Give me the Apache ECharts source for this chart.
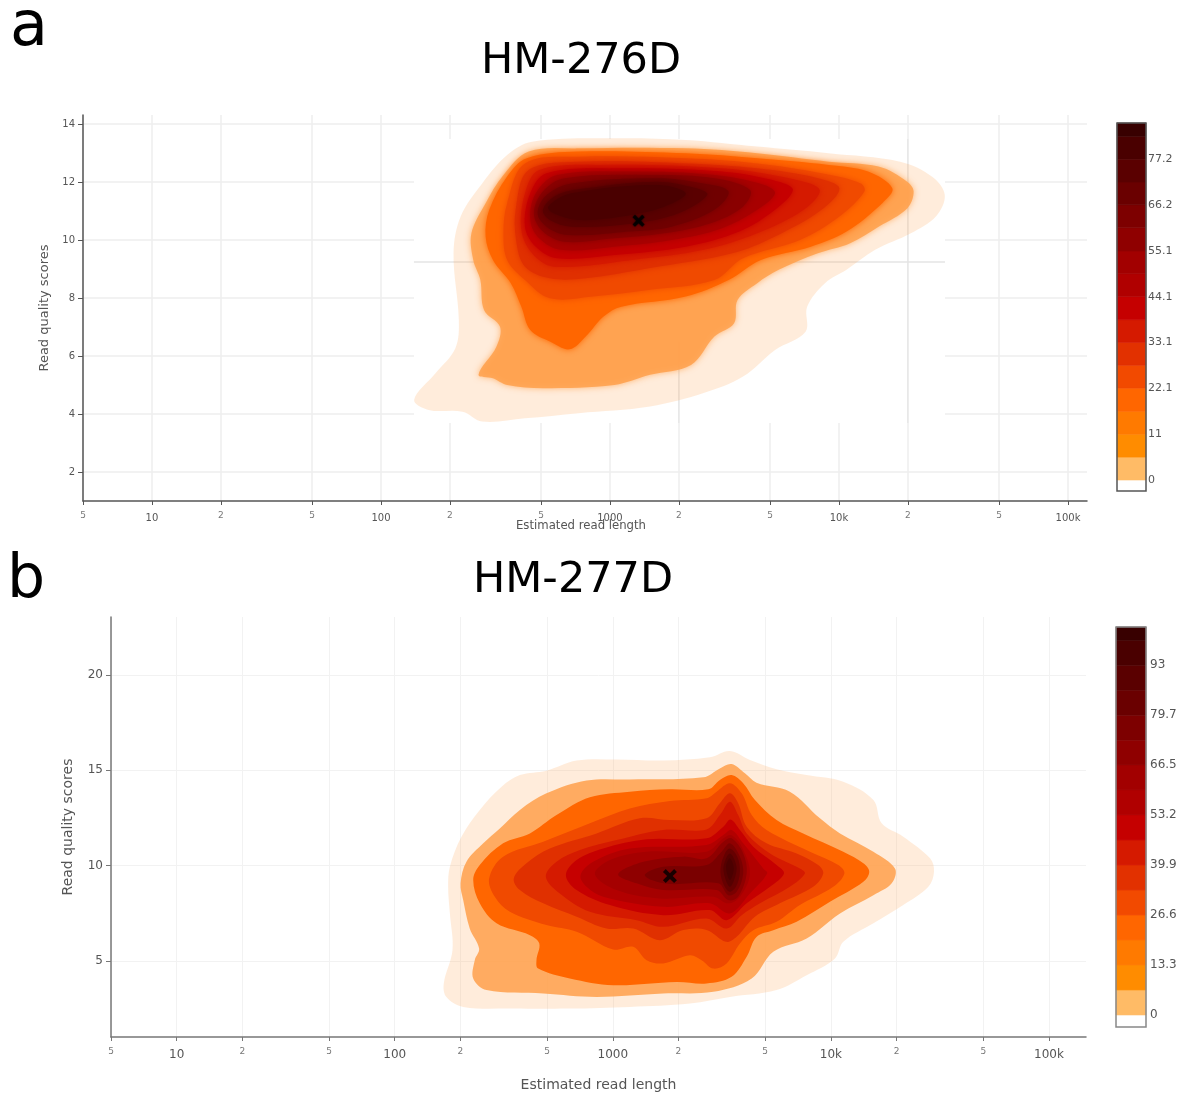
<!DOCTYPE html>
<html>
<head>
<meta charset="utf-8">
<title>Read length vs quality</title>
<script src="https://cdn.jsdelivr.net/npm/echarts@6/dist/echarts.min.js"></script>
<style>
  html, body { margin: 0; padding: 0; background: #fff; }
  #chart { width: 1178px; height: 1095px; }
</style>
</head>
<body>
<div id="chart"></div>
<script>
// read lengths on the x axis, labels as printed
const xTickValues = [5, 10, 20, 50, 100, 200, 500, 1000, 2000, 5000, 10000, 20000, 50000, 100000]
const xTickLabels = ['5', '10', '2', '5', '100', '2', '5', '1000', '2', '5', '10k', '2', '5', '100k']
const yTicksA = [2, 4, 6, 8, 10, 12, 14]
const yTicksB = [5, 10, 15, 20]

// median read length and quality of each run
const medianA = [3.125, 10.66]
const medianB = [3.262, 9.45]

// colorbar steps and labels
const colorbarStepsA = [0, 5.5, 11, 16.5, 22.1, 27.6, 33.1, 38.6, 44.1, 49.6, 55.1, 60.7, 66.2, 71.7, 77.2, 82.7, 85.9]
const colorbarStepsB = [0, 6.65, 13.3, 19.95, 26.6, 33.25, 39.9, 46.55, 53.2, 59.85, 66.5, 73.1, 79.7, 86.4, 93, 99.7, 103.2]
const colorbarTicksA = [0, 11, 22.1, 33.1, 44.1, 55.1, 66.2, 77.2]
const colorbarTicksB = [0, 13.3, 26.6, 39.9, 53.2, 66.5, 79.7, 93]

// density contours, [log10(read length), quality], outermost first
const contourA0 = [[2.145,4.49],[2.239,5.41],[2.325,6.27],[2.340,7.24],[2.317,9.54],[2.348,10.81],[2.442,11.95],[2.551,12.93],[2.660,13.39],[3.019,13.51],[3.331,13.45],[3.643,13.22],[3.955,12.99],[4.267,12.70],[4.407,12.18],[4.462,11.55],[4.423,10.81],[4.314,10.23],[4.158,9.66],[4.033,8.97],[3.939,8.51],[3.861,7.70],[3.854,6.84],[3.721,6.21],[3.581,5.29],[3.409,4.72],[3.175,4.26],[2.863,4.03],[2.629,3.85],[2.442,3.74],[2.356,4.08],[2.208,4.14]]
const contourA1 = [[2.426,5.35],[2.504,6.32],[2.520,7.01],[2.450,7.59],[2.434,8.62],[2.403,9.31],[2.395,10.23],[2.457,11.27],[2.535,12.24],[2.645,13.05],[2.863,13.16],[3.331,13.16],[3.643,12.99],[3.955,12.70],[4.173,12.53],[4.298,12.01],[4.326,11.67],[4.298,11.09],[4.173,10.46],[4.049,9.89],[3.908,9.54],[3.737,8.97],[3.643,8.51],[3.557,7.93],[3.542,7.13],[3.456,6.67],[3.354,5.69],[3.175,5.35],[3.019,5.00],[2.707,4.89],[2.551,5.00],[2.489,5.23]]
const contourA2 = [[2.824,6.23],[2.738,6.50],[2.652,6.90],[2.613,7.70],[2.567,8.51],[2.489,9.31],[2.457,10.12],[2.473,11.04],[2.551,12.19],[2.637,12.82],[2.863,13.05],[3.331,12.99],[3.643,12.82],[3.955,12.59],[4.127,12.36],[4.233,11.78],[4.189,11.27],[4.033,10.29],[3.877,9.77],[3.659,9.31],[3.518,8.62],[3.331,8.05],[3.050,7.70],[2.972,7.36],[2.894,6.67]]
const contourA3 = [[2.738,7.99],[2.629,8.62],[2.551,9.31],[2.535,10.23],[2.551,11.27],[2.629,12.64],[2.863,12.87],[3.331,12.82],[3.643,12.64],[3.924,12.30],[4.095,11.95],[4.111,11.67],[4.002,10.81],[3.830,10.00],[3.581,9.37],[3.456,8.62],[3.175,8.28],[2.925,8.05]]
const contourA4 = [[2.738,8.68],[2.629,9.08],[2.590,10.00],[2.590,11.15],[2.645,12.41],[2.863,12.70],[3.331,12.64],[3.643,12.47],[3.908,12.13],[4.002,11.78],[3.924,11.04],[3.721,10.12],[3.534,9.54],[3.175,9.03],[2.894,8.68]]
const contourA5 = [[2.754,9.08],[2.660,9.54],[2.613,10.35],[2.629,11.61],[2.691,12.41],[2.957,12.59],[3.487,12.47],[3.815,12.07],[3.916,11.72],[3.846,11.04],[3.643,10.23],[3.409,9.66],[3.097,9.31]]
const contourA6 = [[2.769,9.37],[2.676,9.77],[2.629,10.46],[2.652,11.61],[2.723,12.30],[3.019,12.47],[3.487,12.36],[3.737,12.01],[3.799,11.72],[3.721,11.04],[3.565,10.29],[3.331,9.77],[3.019,9.48]]
const contourA7 = [[2.785,9.66],[2.691,10.06],[2.652,10.69],[2.676,11.61],[2.769,12.24],[3.097,12.36],[3.456,12.24],[3.674,11.90],[3.721,11.61],[3.643,11.04],[3.487,10.40],[3.269,10.00],[3.019,9.77]]
const contourA8 = [[2.801,9.94],[2.707,10.29],[2.668,10.92],[2.707,11.67],[2.801,12.13],[3.175,12.24],[3.456,12.13],[3.612,11.72],[3.581,11.15],[3.440,10.58],[3.237,10.23],[3.019,10.06]]
const contourA9 = [[2.816,10.17],[2.723,10.46],[2.684,10.92],[2.723,11.55],[2.832,11.95],[3.206,12.13],[3.409,11.95],[3.518,11.67],[3.456,11.04],[3.269,10.46],[3.081,10.29]]
const contourA10 = [[2.832,10.46],[2.738,10.69],[2.707,11.04],[2.769,11.55],[2.894,11.78],[3.206,12.01],[3.378,11.78],[3.425,11.55],[3.300,10.92],[3.113,10.58]]
const contourA11 = [[2.863,10.69],[2.754,10.92],[2.730,11.15],[2.832,11.61],[3.206,11.90],[3.331,11.61],[3.237,11.15],[3.050,10.81]]

const contourB0 = [[2.245,8.89],[2.253,9.94],[2.306,11.51],[2.390,12.92],[2.490,14.14],[2.574,14.75],[2.696,14.98],[2.834,15.51],[3.017,15.57],[3.231,15.51],[3.445,15.68],[3.537,16.01],[3.629,15.54],[3.751,15.05],[3.889,14.75],[4.057,14.40],[4.195,13.44],[4.233,12.22],[4.332,11.52],[4.455,10.38],[4.473,9.68],[4.447,8.89],[4.332,7.93],[4.195,6.97],[4.057,6.00],[4.019,5.13],[3.889,4.25],[3.751,3.47],[3.537,3.11],[3.354,2.77],[3.078,2.59],[2.803,2.50],[2.543,2.50],[2.314,2.59],[2.237,3.11],[2.225,3.82],[2.265,5.57],[2.253,7.49]]
const contourB1 = [[2.302,9.07],[2.329,10.20],[2.406,11.17],[2.482,11.95],[2.574,12.92],[2.696,13.79],[2.880,14.46],[3.078,14.52],[3.415,14.63],[3.491,15.10],[3.545,15.33],[3.606,14.84],[3.659,14.35],[3.812,13.88],[3.950,12.48],[4.042,11.69],[4.195,10.73],[4.294,9.85],[4.279,9.07],[4.195,8.45],[4.042,7.49],[3.889,6.18],[3.736,5.48],[3.637,4.08],[3.461,3.38],[3.231,3.29],[2.926,3.11],[2.681,3.29],[2.421,3.47],[2.360,4.08],[2.367,5.04],[2.387,5.65],[2.344,6.70],[2.314,8.19]]
const contourB2 = [[2.360,9.24],[2.390,10.03],[2.497,11.17],[2.620,11.69],[2.742,12.65],[2.895,13.58],[3.078,13.88],[3.262,14.00],[3.438,14.00],[3.491,14.49],[3.545,14.75],[3.598,14.32],[3.652,13.44],[3.751,12.39],[3.873,11.69],[4.057,10.73],[4.149,10.12],[4.176,9.68],[4.149,9.15],[3.996,8.10],[3.843,7.05],[3.736,6.61],[3.659,6.26],[3.614,5.22],[3.545,4.17],[3.430,3.82],[3.292,3.90],[3.002,3.73],[2.803,4.08],[2.658,4.60],[2.650,5.04],[2.663,5.91],[2.620,6.35],[2.467,6.97],[2.390,8.02]]
const contourB3 = [[2.433,9.33],[2.497,10.47],[2.681,11.25],[2.895,12.22],[3.078,13.00],[3.262,13.39],[3.430,13.53],[3.476,13.88],[3.537,14.32],[3.591,13.79],[3.637,12.65],[3.705,11.87],[3.904,10.73],[4.034,10.03],[4.062,9.59],[4.011,8.89],[3.858,7.93],[3.751,7.05],[3.644,6.61],[3.583,5.91],[3.522,4.87],[3.461,4.60],[3.407,5.04],[3.354,5.30],[3.231,4.87],[3.155,5.04],[3.094,5.74],[3.002,5.60],[2.834,6.53],[2.696,6.88],[2.528,7.58],[2.459,8.37]]
const contourB4 = [[2.546,9.33],[2.604,10.12],[2.711,10.90],[2.926,11.69],[3.124,12.48],[3.262,12.39],[3.430,12.48],[3.491,13.27],[3.537,13.79],[3.575,13.27],[3.614,12.04],[3.705,11.17],[3.843,10.64],[3.942,10.03],[3.965,9.59],[3.919,8.89],[3.766,8.02],[3.652,7.32],[3.568,6.27],[3.519,6.00],[3.430,6.62],[3.323,6.62],[3.216,6.09],[3.094,6.70],[2.971,6.70],[2.834,7.32],[2.681,8.02],[2.574,8.72]]
const contourB5 = [[2.693,9.42],[2.742,10.20],[2.849,10.82],[3.017,11.34],[3.231,11.87],[3.430,11.90],[3.491,12.65],[3.537,13.35],[3.575,12.65],[3.614,11.69],[3.721,10.64],[3.858,9.85],[3.881,9.59],[3.812,8.89],[3.675,8.02],[3.591,7.40],[3.522,6.70],[3.430,7.23],[3.231,6.79],[3.109,7.14],[2.895,7.58],[2.757,8.54]]
const contourB6 = [[2.785,9.50],[2.834,10.29],[2.956,10.90],[3.155,11.38],[3.430,11.43],[3.507,12.04],[3.540,12.42],[3.583,11.87],[3.644,10.99],[3.751,10.03],[3.785,9.59],[3.721,8.89],[3.614,8.02],[3.522,7.14],[3.445,7.67],[3.231,7.40],[2.987,7.93],[2.834,8.72]]
const contourB7 = [[2.852,9.50],[2.910,10.20],[3.078,10.90],[3.430,11.08],[3.507,11.60],[3.545,11.87],[3.598,11.17],[3.690,9.85],[3.708,9.59],[3.629,8.54],[3.537,7.49],[3.445,8.02],[3.231,7.84],[2.956,8.37],[2.880,8.89]]
const contourB8 = [[2.918,9.55],[2.987,10.29],[3.155,10.73],[3.430,10.73],[3.507,11.43],[3.542,11.60],[3.591,10.99],[3.629,9.59],[3.583,8.37],[3.529,8.02],[3.461,8.37],[3.216,8.28],[3.017,8.72]]
const contourB9 = [[3.025,9.55],[3.140,10.20],[3.323,10.47],[3.430,10.38],[3.507,11.25],[3.545,11.43],[3.598,10.64],[3.614,9.59],[3.575,8.37],[3.529,8.19],[3.476,8.72],[3.231,8.72],[3.109,9.07]]
const contourB10 = [[3.147,9.54],[3.231,9.94],[3.430,10.03],[3.499,10.73],[3.537,11.17],[3.583,10.47],[3.598,9.59],[3.568,8.63],[3.529,8.45],[3.484,9.07],[3.262,9.03],[3.178,9.24]]
const contourB11 = [[3.494,9.85],[3.514,10.64],[3.537,10.90],[3.571,10.47],[3.583,9.68],[3.565,8.89],[3.534,8.63],[3.503,9.15]]
const contourB12 = [[3.507,9.85],[3.537,10.64],[3.568,9.85],[3.537,8.89]]
const contourB13 = [[3.519,9.94],[3.537,10.38],[3.555,9.85],[3.537,9.24]]

const contoursA = [contourA0, contourA1, contourA2, contourA3, contourA4, contourA5, contourA6, contourA7, contourA8, contourA9, contourA10, contourA11]
const contoursB = [contourB0, contourB1, contourB2, contourB3, contourB4, contourB5, contourB6, contourB7, contourB8, contourB9, contourB10, contourB11, contourB12, contourB13]

// the first panel is a pasted picture: a white patch hides the grid behind the density
const patchA = [[2.144, 3.69], [2.144, 13.48], [4.463, 13.48], [4.463, 3.69]]
const strayLineH = [[2.144, 9.24], [4.463, 9.24]]
const strayLineV1 = [[3.301, 3.69], [3.301, 6.5]]
const strayLineV2 = [[4.301, 3.69], [4.301, 13.48]]

const fillColors = ['rgba(253,170,90,0.22)', 'rgba(255,160,75,0.85)', '#ff6600', '#f04a00', '#e03000', '#d51a00', '#c60000', '#b20000', '#a50000', '#8f0000', '#7a0000', '#660000', '#560000', '#4b0000']
const fillColorsA = ['rgba(253,170,90,0.22)', 'rgba(255,160,75,0.85)', '#ff6600', '#f04a00', '#e03000', '#d51a00', '#c60000', '#a80000', '#8a0000', '#700000', '#5a0000', '#4a0000']
const barColors = ['#ffbb66', '#ff8c00', '#ff7a00', '#ff6600', '#f24a00', '#e23100', '#d51a00', '#c50000', '#b00000', '#a20000', '#8f0000', '#7d0000', '#6a0000', '#5a0000', '#4a0000', '#380000']

const font = '"DejaVu Sans", Verdana, sans-serif'
const crossPath = 'path://M2 0L5 3L8 0L10 2L7 5L10 8L8 10L5 7L2 10L0 8L3 5L0 2Z'

const chart = echarts.init(document.getElementById('chart'))

function contourSeries(contours, colors, axisIndex, blur) {
  return {
    type: 'custom',
    xAxisIndex: axisIndex,
    yAxisIndex: axisIndex,
    z: 3,
    silent: true,
    data: contours.map((c, i) => [c[0][0], c[0][1], i]),
    renderItem: function(params, api) {
      const idx = api.value(2)
      const fill = colors[idx]
      const style = { fill: fill }
      // the outer band is see-through, its shadow would darken it
      if (blur && idx > 0) {
        style.shadowBlur = blur
        style.shadowColor = fill
      }
      return {
        type: 'polygon',
        shape: { points: contours[idx].map(p => api.coord(p)), smooth: 0.35 },
        style: style
      }
    }
  }
}

function colorbarSeries(steps, axisIndex) {
  return {
    type: 'custom',
    xAxisIndex: axisIndex,
    yAxisIndex: axisIndex,
    silent: true,
    data: barColors.map((c, i) => [0, steps[i], steps[i + 1], i]),
    renderItem: function(params, api) {
      const low = api.coord([0, api.value(1)])
      const high = api.coord([1, api.value(2)])
      const fill = barColors[api.value(3)]
      return {
        type: 'rect',
        shape: { x: low[0], y: high[1], width: high[0] - low[0], height: low[1] - high[1] },
        style: { fill: fill, stroke: fill, lineWidth: 0.6 }
      }
    }
  }
}

// frame goes on top of the bands
function colorbarFrame(axisIndex, low, high, color) {
  return {
    type: 'custom',
    xAxisIndex: axisIndex,
    yAxisIndex: axisIndex,
    z: 3,
    silent: true,
    data: [[0, low, high]],
    renderItem: function(params, api) {
      const a = api.coord([0, api.value(1)])
      const b = api.coord([1, api.value(2)])
      return {
        type: 'rect',
        shape: { x: a[0], y: b[1], width: b[0] - a[0], height: a[1] - b[1] },
        style: { fill: 'none', stroke: color, lineWidth: 1.5 }
      }
    }
  }
}

function strayLine(points) {
  return {
    type: 'line',
    xAxisIndex: 0,
    yAxisIndex: 0,
    z: 1,
    silent: true,
    symbol: 'none',
    data: points,
    lineStyle: { color: '#e4e4e4', width: 1.5 }
  }
}

function medianSeries(point, axisIndex, size, blur) {
  return {
    type: 'scatter',
    xAxisIndex: axisIndex,
    yAxisIndex: axisIndex,
    z: 4,
    silent: true,
    symbol: crossPath,
    symbolSize: size,
    data: [point],
    itemStyle: { color: '#000', shadowBlur: blur, shadowColor: '#000' }
  }
}

function plotXAxis(gridIndex, opts) {
  return {
    gridIndex: gridIndex,
    type: 'value',
    min: Math.log10(5),
    max: opts.max,
    name: 'Estimated read length',
    nameLocation: 'middle',
    nameGap: opts.nameGap,
    nameMoveOverlap: false,
    nameTextStyle: { fontFamily: font, fontSize: opts.nameSize, color: '#555', padding: opts.namePadding },
    axisLine: { show: true, onZero: false, lineStyle: { color: opts.lineColor, width: 1.5 } },
    axisTick: { show: true, length: 4, customValues: xTickValues.map(Math.log10), lineStyle: { color: opts.lineColor } },
    splitLine: { show: true, lineStyle: { color: opts.gridColor, width: opts.gridWidth } },
    axisLabel: {
      margin: opts.labelMargin,
      customValues: xTickValues.map(Math.log10),
      formatter: function(value) {
        const i = xTickValues.findIndex(v => Math.abs(Math.log10(v) - value) < 1e-6)
        const label = xTickLabels[i]
        return (i % 3 === 1 ? '{major|' : '{minor|') + label + '}'
      },
      rich: {
        major: { fontFamily: font, fontSize: opts.majorSize, color: '#555', padding: [opts.majorDrop, 0, 0, 0] },
        minor: { fontFamily: font, fontSize: 9, color: '#777' }
      }
    }
  }
}

function plotYAxis(gridIndex, opts) {
  return {
    gridIndex: gridIndex,
    type: 'value',
    min: opts.min,
    max: opts.max,
    name: 'Read quality scores',
    nameLocation: 'middle',
    nameGap: opts.nameGap,
    nameMoveOverlap: false,
    nameTextStyle: { fontFamily: font, fontSize: opts.nameSize, color: '#555' },
    axisLine: { show: true, onZero: false, lineStyle: { color: opts.lineColor, width: 1.5 } },
    axisTick: { show: true, length: 5, customValues: opts.ticks, lineStyle: { color: opts.lineColor } },
    splitLine: { show: true, lineStyle: { color: opts.gridColor, width: opts.gridWidth } },
    axisLabel: { customValues: opts.ticks, fontFamily: font, fontSize: opts.labelSize, color: '#555', margin: 8 }
  }
}

function barXAxis(gridIndex) {
  return { gridIndex: gridIndex, type: 'value', min: 0, max: 1, show: false }
}

function barYAxis(gridIndex, steps, ticks, low, size, margin) {
  return {
    gridIndex: gridIndex,
    type: 'value',
    position: 'right',
    min: low,
    max: steps[steps.length - 1],
    axisLine: { show: false },
    axisTick: { show: false, customValues: ticks },
    splitLine: { show: false },
    axisLabel: { customValues: ticks, fontFamily: font, fontSize: size, color: '#555', margin: margin, padding: [3, 0, 0, 0] }
  }
}

chart.setOption({
  animation: false,
  backgroundColor: '#fff',
  title: [
    { text: 'a', left: 10, top: -2, padding: 0, textStyle: { fontFamily: font, fontSize: 62, fontWeight: 'normal', color: '#000' } },
    { text: 'HM-276D', left: 581, top: 40, padding: 0, textAlign: 'center', textStyle: { fontFamily: font, fontSize: 43, fontWeight: 'normal', color: '#000' } },
    { text: 'b', left: 7, top: 551, padding: 0, textStyle: { fontFamily: font, fontSize: 60, fontWeight: 'normal', color: '#000' } },
    { text: 'HM-277D', left: 573, top: 559, padding: 0, textAlign: 'center', textStyle: { fontFamily: font, fontSize: 43, fontWeight: 'normal', color: '#000' } }
  ],
  grid: [
    { left: 83, top: 115, width: 1004, height: 386, outerBoundsMode: 'none' },
    { left: 1117, top: 123, width: 29, height: 368, outerBoundsMode: 'none' },
    { left: 111, top: 617, width: 975, height: 420, outerBoundsMode: 'none' },
    { left: 1116, top: 627, width: 30, height: 400, outerBoundsMode: 'none' }
  ],
  xAxis: [
    plotXAxis(0, { max: 5.083, nameGap: 19, nameSize: 11.7, namePadding: [0, 8, 0, 0], lineColor: '#555', gridColor: '#eeeeee', gridWidth: 1.5, labelMargin: 10, majorSize: 10, majorDrop: 2 }),
    barXAxis(1),
    plotXAxis(2, { max: 5.17, nameGap: 41, nameSize: 14, namePadding: 0, lineColor: '#777', gridColor: '#f2f2f2', gridWidth: 1, labelMargin: 10, majorSize: 12, majorDrop: 2 }),
    barXAxis(3)
  ],
  yAxis: [
    plotYAxis(0, { min: 1, max: 14.31, ticks: yTicksA, nameGap: 32, nameSize: 13, lineColor: '#555', gridColor: '#eeeeee', gridWidth: 1.5, labelSize: 10 }),
    barYAxis(1, colorbarStepsA, colorbarTicksA, -2.65, 11, 2),
    plotYAxis(2, { min: 1.01, max: 23.04, ticks: yTicksB, nameGap: 36, nameSize: 14, lineColor: '#777', gridColor: '#f2f2f2', gridWidth: 1, labelSize: 12 }),
    barYAxis(3, colorbarStepsB, colorbarTicksB, -3.2, 12, 4)
  ],
  series: [
    {
      type: 'custom',
      xAxisIndex: 0,
      yAxisIndex: 0,
      z: 1,
      silent: true,
      data: [[patchA[0][0], patchA[0][1]]],
      renderItem: function(params, api) {
        return { type: 'polygon', shape: { points: patchA.map(p => api.coord(p)) }, style: { fill: '#fff' } }
      }
    },
    strayLine(strayLineH),
    strayLine(strayLineV1),
    strayLine(strayLineV2),
    contourSeries(contoursA, fillColorsA, 0, 6),
    medianSeries(medianA, 0, 12, 2),
    colorbarSeries(colorbarStepsA, 1),
    colorbarFrame(1, -2.65, 85.9, '#555'),
    contourSeries(contoursB, fillColors, 2, 0),
    medianSeries(medianB, 2, 14, 0),
    colorbarSeries(colorbarStepsB, 3),
    colorbarFrame(3, -3.2, 103.2, '#888')
  ]
})
</script>
</body>
</html>
